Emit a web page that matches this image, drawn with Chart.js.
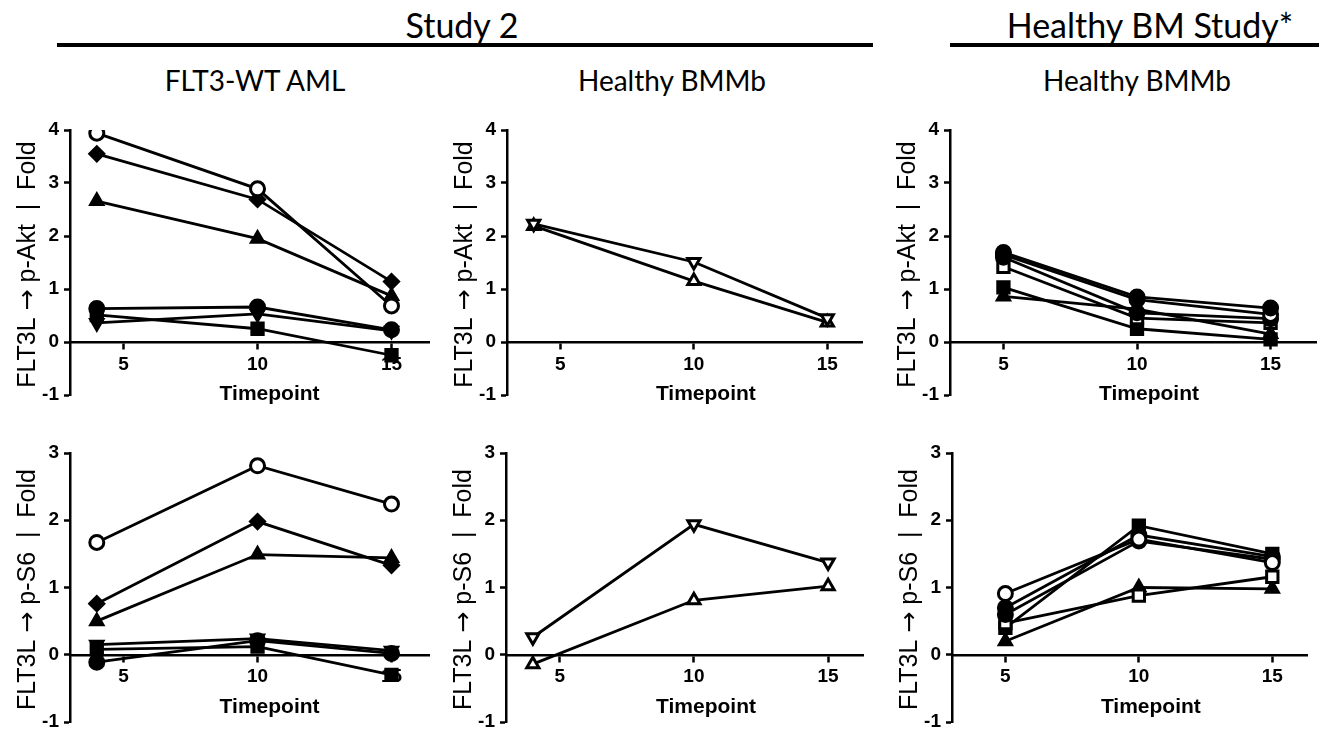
<!DOCTYPE html>
<html>
<head>
<meta charset="utf-8">
<script src="https://cdn.jsdelivr.net/npm/chart.js@4.4.0/dist/chart.umd.min.js"></script>
<style>
  html, body { margin: 0; padding: 0; background: #fff; overflow: hidden; }
  #page { position: relative; width: 1319px; height: 731px; }
  canvas { position: absolute; }
  .hdr { position: absolute; transform: translate(-50%, -50%); font-family: Lato, "Open Sans", sans-serif; color: #000; white-space: nowrap; }
  .top { font-size: 34px; }
  .col { font-size: 28px; }
  .rule { position: absolute; background: #000; height: 4px; top: 43px; }
</style>
</head>
<body>
<div id="page">
  <div class="hdr top" style="left:462px; top:24px;">Study 2</div>
  <div class="hdr top" style="left:1150px; top:24px;">Healthy BM Study*</div>
  <div class="rule" style="left:57px; width:816px;"></div>
  <div class="rule" style="left:950px; width:369px;"></div>
  <div class="hdr col" style="left:255px; top:80px;">FLT3-WT AML</div>
  <div class="hdr col" style="left:672px; top:80px;">Healthy BMMb</div>
  <div class="hdr col" style="left:1137px; top:80px;">Healthy BMMb</div>
</div>
<script>
// timepoints
const study2Times = [4, 10, 15];
const healthyTimes = [5, 10, 15];
const xTicks = [5, 10, 15];

// p-Akt, FLT3-WT AML (Study 2)
const aktAmlOpenCircle = [3.94, 2.89, 0.68];
const aktAmlDiamond = [3.55, 2.69, 1.14];
const aktAmlTriangle = [2.66, 1.95, 0.87];
const aktAmlCircle = [0.63, 0.66, 0.23];
const aktAmlInvTriangle = [0.36, 0.53, 0.21];
const aktAmlSquare = [0.51, 0.25, -0.25];

// p-Akt, Healthy BMMb (Study 2)
const aktBm2OpenInvTriangle = [2.23, 1.51, 0.45];
const aktBm2OpenTriangle = [2.19, 1.15, 0.37];

// p-Akt, Healthy BMMb (Healthy BM Study)
const aktBmhCircle = [1.69, 0.85, 0.64];
const aktBmhOpenCircle = [1.65, 0.80, 0.52];
const aktBmhCircle2 = [1.60, 0.55, 0.44];
const aktBmhOpenSquare = [1.42, 0.45, 0.36];
const aktBmhSquare = [1.03, 0.25, 0.05];
const aktBmhTriangle = [0.86, 0.62, 0.15];

// p-S6, FLT3-WT AML (Study 2)
const s6AmlOpenCircle = [1.67, 2.81, 2.24];
const s6AmlDiamond = [0.76, 1.98, 1.33];
const s6AmlTriangle = [0.50, 1.49, 1.44];
const s6AmlCircle = [-0.11, 0.21, 0.02];
const s6AmlInvTriangle = [0.15, 0.24, 0.06];
const s6AmlSquare = [0.08, 0.12, -0.30];

// p-S6, Healthy BMMb (Study 2)
const s6Bm2OpenInvTriangle = [0.26, 1.94, 1.37];
const s6Bm2OpenTriangle = [-0.14, 0.81, 1.02];

// p-S6, Healthy BMMb (Healthy BM Study)
const s6BmhOpenCircle = [0.91, 1.72, 1.37];
const s6BmhCircle = [0.70, 1.78, 1.46];
const s6BmhCircle2 = [0.60, 1.69, 1.42];
const s6BmhOpenSquare = [0.47, 0.88, 1.16];
const s6BmhSquare = [0.40, 1.92, 1.50];
const s6BmhTriangle = [0.20, 1.00, 0.98];

// marker looks
const markers = {
  openCircle: { style: 'circle', fill: '#fff', rot: 0 },
  circle: { style: 'circle', fill: '#000', rot: 0 },
  diamond: { style: 'rectRot', fill: '#000', rot: 0 },
  triangle: { style: 'triangle', fill: '#000', rot: 0 },
  invTriangle: { style: 'triangle', fill: '#000', rot: 180 },
  square: { style: 'rect', fill: '#000', rot: 0 },
  openSquare: { style: 'rect', fill: '#fff', rot: 0 },
  openTriangle: { style: 'triangle', fill: '#fff', rot: 0 },
  openInvTriangle: { style: 'triangle', fill: '#fff', rot: 180 }
};

function series(times, values, kind) {
  const m = markers[kind];
  return {
    data: times.map((t, i) => ({ x: t, y: values[i] })),
    showLine: true,
    borderColor: '#000',
    borderWidth: 2.8,
    pointStyle: m.style,
    pointRotation: m.rot,
    pointRadius: kind === 'square' || kind === 'openSquare' ? 8 : 7,
    pointBackgroundColor: m.fill,
    pointBorderColor: '#000',
    pointBorderWidth: 3
  };
}

const FONT = '"Liberation Sans", Arial, sans-serif';

// axis titles: "Timepoint" under the x axis, and the rotated y title with a wider arrow glyph
const axisTitles = {
  id: 'axisTitles',
  afterDraw(chart, args, opts) {
    const ctx = chart.ctx;
    const xs = chart.scales.x, ys = chart.scales.y;
    ctx.save();
    ctx.fillStyle = '#000';
    ctx.font = 'bold 21px ' + FONT;
    ctx.textAlign = 'center';
    ctx.textBaseline = 'middle';
    ctx.fillText('Timepoint', xs.getPixelForValue(10.45), ys.getPixelForValue(0) + 52);

    const parts = [
      { t: 'FLT3L ', f: '25px ' + FONT },
      { t: '\u2192', f: '25px "DejaVu Sans", sans-serif' },
      { t: ' ' + opts.label + '  |  Fold', f: '25px ' + FONT }
    ];
    let total = 0;
    parts.forEach(p => { ctx.font = p.f; p.w = ctx.measureText(p.t).width; total += p.w; });
    ctx.translate(ys.left + 24, (ys.top + ys.bottom) / 2 + 2);
    ctx.rotate(-Math.PI / 2);
    ctx.textAlign = 'left';
    let x = -total / 2;
    parts.forEach(p => { ctx.font = p.f; ctx.fillText(p.t, x, 0); x += p.w; });
    ctx.restore();
  }
};

const page = document.getElementById('page');

function panel(opt) {
  const yW = 66, padTop = 30, xH = 69, padRight = 10;
  const canvas = document.createElement('canvas');
  canvas.width = yW + opt.plotW + padRight;
  canvas.height = padTop + opt.plotH + xH;
  canvas.style.left = (opt.axisX - yW) + 'px';
  canvas.style.top = (opt.plotTop - padTop) + 'px';
  page.appendChild(canvas);

  const tickFont = { family: FONT, size: 19, weight: 'bold' };
  const axisStyle = {
    border: { display: true, color: '#000', width: 2.5 },
    grid: { display: true, drawOnChartArea: false, drawTicks: true, tickLength: 6, color: '#000', tickWidth: 2.5 }
  };
  new Chart(canvas, {
    type: 'scatter',
    data: { datasets: opt.datasets },
    plugins: [axisTitles],
    options: {
      responsive: false,
      animation: false,
      devicePixelRatio: 1,
      layout: { padding: { top: padTop, left: 0, right: padRight, bottom: xH } },
      plugins: { legend: { display: false }, tooltip: { enabled: false }, axisTitles: { label: opt.label } },
      scales: {
        x: Object.assign({
          type: 'linear',
          position: { y: 0 },
          min: 3,
          max: opt.xMax,
          afterBuildTicks: (s) => { s.ticks = xTicks.map(v => ({ value: v })); },
          ticks: { color: '#000', font: tickFont, padding: 5, maxRotation: 0 }
        }, axisStyle),
        y: Object.assign({
          type: 'linear',
          min: -1,
          max: opt.yMax,
          afterFit: (s) => { s.width = yW; },
          ticks: { stepSize: 1, color: '#000', font: tickFont, padding: 5 }
        }, axisStyle)
      }
    }
  });
}

panel({
  axisX: 70, plotTop: 130, plotW: 360, plotH: 265, xMax: 16.4, yMax: 4, label: 'p-Akt',
  datasets: [
    series(study2Times, aktAmlOpenCircle, 'openCircle'),
    series(study2Times, aktAmlDiamond, 'diamond'),
    series(study2Times, aktAmlTriangle, 'triangle'),
    series(study2Times, aktAmlCircle, 'circle'),
    series(study2Times, aktAmlInvTriangle, 'invTriangle'),
    series(study2Times, aktAmlSquare, 'square')
  ]
});

panel({
  axisX: 507, plotTop: 130, plotW: 355, plotH: 265, xMax: 16.3, yMax: 4, label: 'p-Akt',
  datasets: [
    series(study2Times, aktBm2OpenInvTriangle, 'openInvTriangle'),
    series(study2Times, aktBm2OpenTriangle, 'openTriangle')
  ]
});

panel({
  axisX: 950, plotTop: 130, plotW: 367, plotH: 265, xMax: 16.7, yMax: 4, label: 'p-Akt',
  datasets: [
    series(healthyTimes, aktBmhCircle, 'circle'),
    series(healthyTimes, aktBmhOpenCircle, 'openCircle'),
    series(healthyTimes, aktBmhCircle2, 'circle'),
    series(healthyTimes, aktBmhOpenSquare, 'openSquare'),
    series(healthyTimes, aktBmhSquare, 'square'),
    series(healthyTimes, aktBmhTriangle, 'triangle')
  ]
});

panel({
  axisX: 70, plotTop: 453, plotW: 360, plotH: 269, xMax: 16.4, yMax: 3, label: 'p-S6',
  datasets: [
    series(study2Times, s6AmlOpenCircle, 'openCircle'),
    series(study2Times, s6AmlDiamond, 'diamond'),
    series(study2Times, s6AmlTriangle, 'triangle'),
    series(study2Times, s6AmlCircle, 'circle'),
    series(study2Times, s6AmlInvTriangle, 'invTriangle'),
    series(study2Times, s6AmlSquare, 'square')
  ]
});

panel({
  axisX: 506, plotTop: 453, plotW: 357, plotH: 269, xMax: 16.3, yMax: 3, label: 'p-S6',
  datasets: [
    series(study2Times, s6Bm2OpenInvTriangle, 'openInvTriangle'),
    series(study2Times, s6Bm2OpenTriangle, 'openTriangle')
  ]
});

panel({
  axisX: 952, plotTop: 453, plotW: 356, plotH: 269, xMax: 16.3, yMax: 3, label: 'p-S6',
  datasets: [
    series(healthyTimes, s6BmhOpenCircle, 'openCircle'),
    series(healthyTimes, s6BmhCircle, 'circle'),
    series(healthyTimes, s6BmhCircle2, 'circle'),
    series(healthyTimes, s6BmhOpenSquare, 'openSquare'),
    series(healthyTimes, s6BmhSquare, 'square'),
    series(healthyTimes, s6BmhTriangle, 'triangle')
  ]
});
</script>
</body>
</html>
